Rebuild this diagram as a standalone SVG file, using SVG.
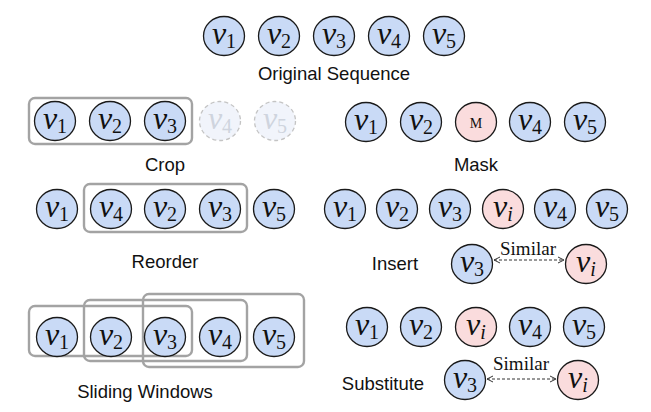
<svg xmlns="http://www.w3.org/2000/svg" width="651" height="412" viewBox="0 0 651 412">
<defs>
<style>
.b{fill:#c9daf6;stroke:#1a1a1a;stroke-width:1.3}
.p{fill:#fadcdd;stroke:#1a1a1a;stroke-width:1.3}
.g{fill:#f1f4fb;stroke:#c4c4c4;stroke-width:1.3;stroke-dasharray:4 3}
.box{fill:none;stroke:#a3a3a3;stroke-width:2.4}
.m{font-family:"Liberation Serif",serif;font-size:32px;text-anchor:middle;fill:#111}
.m .v{font-style:italic}
.m .s{font-size:20px}
.gm{fill:#cfd4de}
.lab{font-family:"Liberation Sans",Arial,sans-serif;font-size:18.5px;fill:#111;text-anchor:middle}
.sim{font-family:"Liberation Serif",serif;font-size:19px;fill:#111;text-anchor:middle}
.arr{stroke:#333;stroke-width:1;stroke-dasharray:3 2;fill:none;marker-start:url(#ah);marker-end:url(#ah)}
</style>
<marker id="ah" viewBox="0 0 8 8" refX="7" refY="4" markerWidth="8" markerHeight="8" orient="auto-start-reverse" markerUnits="userSpaceOnUse">
<path d="M1,1 L7,4 L1,7" fill="none" stroke="#333" stroke-width="1"/>
</marker>
</defs>

<g id="original">
<ellipse class="b" cx="224" cy="36" rx="20.5" ry="19.5"/><text class="m" x="224" y="44"><tspan class="v">v</tspan><tspan class="s" dy="4">1</tspan></text>
<ellipse class="b" cx="279" cy="36" rx="20.5" ry="19.5"/><text class="m" x="279" y="44"><tspan class="v">v</tspan><tspan class="s" dy="4">2</tspan></text>
<ellipse class="b" cx="334" cy="36" rx="20.5" ry="19.5"/><text class="m" x="334" y="44"><tspan class="v">v</tspan><tspan class="s" dy="4">3</tspan></text>
<ellipse class="b" cx="389" cy="36" rx="20.5" ry="19.5"/><text class="m" x="389" y="44"><tspan class="v">v</tspan><tspan class="s" dy="4">4</tspan></text>
<ellipse class="b" cx="444" cy="36" rx="20.5" ry="19.5"/><text class="m" x="444" y="44"><tspan class="v">v</tspan><tspan class="s" dy="4">5</tspan></text>
<text class="lab" x="334" y="80">Original Sequence</text>
</g>

<g id="crop">
<rect class="box" x="29" y="98" width="163" height="46" rx="6"/>
<ellipse class="b" cx="55" cy="121" rx="20.5" ry="19.5"/><text class="m" x="55" y="129"><tspan class="v">v</tspan><tspan class="s" dy="4">1</tspan></text>
<ellipse class="b" cx="110" cy="121" rx="20.5" ry="19.5"/><text class="m" x="110" y="129"><tspan class="v">v</tspan><tspan class="s" dy="4">2</tspan></text>
<ellipse class="b" cx="165" cy="121" rx="20.5" ry="19.5"/><text class="m" x="165" y="129"><tspan class="v">v</tspan><tspan class="s" dy="4">3</tspan></text>
<ellipse class="g" cx="220" cy="121" rx="20.5" ry="19.5"/><text class="m gm" x="220" y="129"><tspan class="v">v</tspan><tspan class="s" dy="4">4</tspan></text>
<ellipse class="g" cx="275" cy="121" rx="20.5" ry="19.5"/><text class="m gm" x="275" y="129"><tspan class="v">v</tspan><tspan class="s" dy="4">5</tspan></text>
<text class="lab" x="165" y="171">Crop</text>
</g>

<g id="mask">
<ellipse class="b" cx="366" cy="122" rx="20.5" ry="19.5"/><text class="m" x="366" y="130"><tspan class="v">v</tspan><tspan class="s" dy="4">1</tspan></text>
<ellipse class="b" cx="421" cy="122" rx="20.5" ry="19.5"/><text class="m" x="421" y="130"><tspan class="v">v</tspan><tspan class="s" dy="4">2</tspan></text>
<ellipse class="p" cx="476" cy="122" rx="20.5" ry="19.5"/><text x="476" y="127.5" style="font-family:'Liberation Serif',serif;font-size:14px;text-anchor:middle;fill:#111">M</text>
<ellipse class="b" cx="530" cy="122" rx="20.5" ry="19.5"/><text class="m" x="530" y="130"><tspan class="v">v</tspan><tspan class="s" dy="4">4</tspan></text>
<ellipse class="b" cx="585" cy="122" rx="20.5" ry="19.5"/><text class="m" x="585" y="130"><tspan class="v">v</tspan><tspan class="s" dy="4">5</tspan></text>
<text class="lab" x="476" y="171">Mask</text>
</g>

<g id="reorder">
<rect class="box" x="84" y="184" width="163" height="48" rx="6"/>
<ellipse class="b" cx="57" cy="209" rx="20.5" ry="19.5"/><text class="m" x="57" y="217"><tspan class="v">v</tspan><tspan class="s" dy="4">1</tspan></text>
<ellipse class="b" cx="111" cy="209" rx="20.5" ry="19.5"/><text class="m" x="111" y="217"><tspan class="v">v</tspan><tspan class="s" dy="4">4</tspan></text>
<ellipse class="b" cx="165" cy="209" rx="20.5" ry="19.5"/><text class="m" x="165" y="217"><tspan class="v">v</tspan><tspan class="s" dy="4">2</tspan></text>
<ellipse class="b" cx="220" cy="209" rx="20.5" ry="19.5"/><text class="m" x="220" y="217"><tspan class="v">v</tspan><tspan class="s" dy="4">3</tspan></text>
<ellipse class="b" cx="274" cy="209" rx="20.5" ry="19.5"/><text class="m" x="274" y="217"><tspan class="v">v</tspan><tspan class="s" dy="4">5</tspan></text>
<text class="lab" x="165" y="268">Reorder</text>
</g>

<g id="insert">
<ellipse class="b" cx="345" cy="209" rx="20.5" ry="19.5"/><text class="m" x="345" y="217"><tspan class="v">v</tspan><tspan class="s" dy="4">1</tspan></text>
<ellipse class="b" cx="397" cy="209" rx="20.5" ry="19.5"/><text class="m" x="397" y="217"><tspan class="v">v</tspan><tspan class="s" dy="4">2</tspan></text>
<ellipse class="b" cx="450" cy="209" rx="20.5" ry="19.5"/><text class="m" x="450" y="217"><tspan class="v">v</tspan><tspan class="s" dy="4">3</tspan></text>
<ellipse class="p" cx="503" cy="209" rx="20.5" ry="19.5"/><text class="m" x="503" y="217"><tspan class="v">v</tspan><tspan class="s v" dy="4">i</tspan></text>
<ellipse class="b" cx="555" cy="209" rx="20.5" ry="19.5"/><text class="m" x="555" y="217"><tspan class="v">v</tspan><tspan class="s" dy="4">4</tspan></text>
<ellipse class="b" cx="607" cy="209" rx="20.5" ry="19.5"/><text class="m" x="607" y="217"><tspan class="v">v</tspan><tspan class="s" dy="4">5</tspan></text>
<ellipse class="b" cx="472" cy="264" rx="20.5" ry="19.5"/><text class="m" x="472" y="272"><tspan class="v">v</tspan><tspan class="s" dy="4">3</tspan></text>
<ellipse class="p" cx="586" cy="264" rx="20.5" ry="19.5"/><text class="m" x="586" y="272"><tspan class="v">v</tspan><tspan class="s v" dy="4">i</tspan></text>
<text class="sim" x="528" y="255">Similar</text>
<text class="lab" x="395" y="270">Insert</text>
</g>

<g id="sliding">
<rect class="box" x="29" y="306" width="163" height="50" rx="6"/>
<rect class="box" x="84" y="300" width="163" height="61" rx="6"/>
<rect class="box" x="143" y="294" width="161" height="73" rx="6"/>
<ellipse class="b" cx="57" cy="337" rx="20.5" ry="19.5"/><text class="m" x="57" y="345"><tspan class="v">v</tspan><tspan class="s" dy="4">1</tspan></text>
<ellipse class="b" cx="111" cy="337" rx="20.5" ry="19.5"/><text class="m" x="111" y="345"><tspan class="v">v</tspan><tspan class="s" dy="4">2</tspan></text>
<ellipse class="b" cx="165" cy="337" rx="20.5" ry="19.5"/><text class="m" x="165" y="345"><tspan class="v">v</tspan><tspan class="s" dy="4">3</tspan></text>
<ellipse class="b" cx="220" cy="337" rx="20.5" ry="19.5"/><text class="m" x="220" y="345"><tspan class="v">v</tspan><tspan class="s" dy="4">4</tspan></text>
<ellipse class="b" cx="274" cy="337" rx="20.5" ry="19.5"/><text class="m" x="274" y="345"><tspan class="v">v</tspan><tspan class="s" dy="4">5</tspan></text>
<text class="lab" x="145" y="398">Sliding Windows</text>
</g>

<g id="substitute">
<ellipse class="b" cx="367" cy="327" rx="20.5" ry="19.5"/><text class="m" x="367" y="335"><tspan class="v">v</tspan><tspan class="s" dy="4">1</tspan></text>
<ellipse class="b" cx="421" cy="327" rx="20.5" ry="19.5"/><text class="m" x="421" y="335"><tspan class="v">v</tspan><tspan class="s" dy="4">2</tspan></text>
<ellipse class="p" cx="476" cy="327" rx="20.5" ry="19.5"/><text class="m" x="476" y="335"><tspan class="v">v</tspan><tspan class="s v" dy="4">i</tspan></text>
<ellipse class="b" cx="530" cy="327" rx="20.5" ry="19.5"/><text class="m" x="530" y="335"><tspan class="v">v</tspan><tspan class="s" dy="4">4</tspan></text>
<ellipse class="b" cx="584" cy="327" rx="20.5" ry="19.5"/><text class="m" x="584" y="335"><tspan class="v">v</tspan><tspan class="s" dy="4">5</tspan></text>
<ellipse class="b" cx="465" cy="380" rx="20.5" ry="19.5"/><text class="m" x="465" y="388"><tspan class="v">v</tspan><tspan class="s" dy="4">3</tspan></text>
<ellipse class="p" cx="578" cy="380" rx="20.5" ry="19.5"/><text class="m" x="578" y="388"><tspan class="v">v</tspan><tspan class="s v" dy="4">i</tspan></text>
<text class="sim" x="521" y="370">Similar</text>
<text class="lab" x="383" y="390">Substitute</text>
</g>

<g id="connectors">
<line class="arr" x1="494" y1="260" x2="564" y2="260"/>
<line class="arr" x1="487" y1="379" x2="556" y2="379"/>
</g>
</svg>
